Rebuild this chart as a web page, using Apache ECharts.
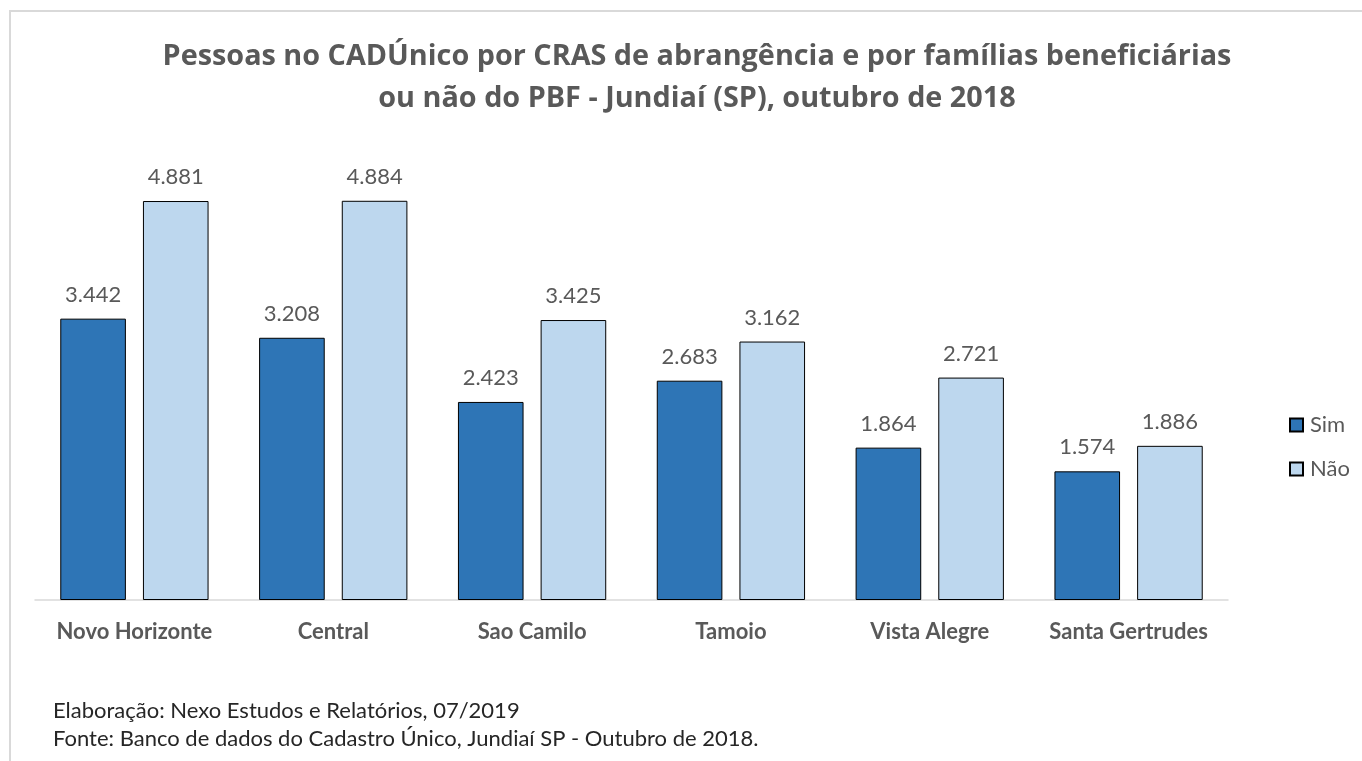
<!DOCTYPE html>
<html><head><meta charset="utf-8">
<script src="https://cdn.jsdelivr.net/npm/echarts@6/dist/echarts.min.js"></script>
<style>html,body{margin:0;padding:0;background:#fff}#c{width:1362px;height:761px}</style>
</head><body><div id="c"></div>
<script>
const categories = ['Novo Horizonte','Central','Sao Camilo','Tamoio','Vista Alegre','Santa Gertrudes'];
const seriesNames = ['Sim','Não'];
const simValues = [3442,3208,2423,2683,1864,1574];
const naoValues = [4881,4884,3425,3162,2721,1886];
const titleText = 'Pessoas no CADÚnico por CRAS de abrangência e por famílias beneficiárias\nou não do PBF - Jundiaí (SP), outubro de 2018';
const notes = ['Elaboração: Nexo Estudos e Relatórios, 07/2019','Fonte: Banco de dados do Cadastro Único, Jundiaí SP - Outubro de 2018.'];

const fmt = v => String(v).replace(/\B(?=(\d{3})+(?!\d))/g, '.');
const chart = echarts.init(document.getElementById('c'), null, {renderer:'canvas'});
const labelStyle = {show:true, position:'top', distance:13, color:'#595959', fontFamily:'Lato', fontSize:22, formatter:p=>fmt(p.value)};
chart.setOption({
  animation:false,
  title:{text:titleText, left:692, top:31, textAlign:'center',
    textStyle:{fontFamily:'Open Sans', fontWeight:'bold', fontSize:28.8, color:'#595959', lineHeight:42}},
  legend:{orient:'vertical', left:1284, top:409, itemWidth:13, itemHeight:13, itemGap:22,
    icon:'rect', textStyle:{fontFamily:'Lato', fontSize:22, color:'#595959', padding:[0,0,0,2]},
    data:seriesNames},
  grid:{left:35, right:134, top:191.3, bottom:161, outerBoundsMode:'none'},
  xAxis:{type:'category', data:categories,
    axisLine:{lineStyle:{color:'#d9d9d9', width:1.5}}, axisTick:{show:false},
    axisLabel:{interval:0, margin:21, fontFamily:'Lato', fontWeight:'bold', fontSize:22, color:'#595959'}},
  yAxis:{type:'value', min:0, max:5000, show:false, splitLine:{show:false}},
  series:[
    {name:seriesNames[0], type:'bar', data:simValues, barWidth:'33%', barGap:'26%',
      itemStyle:{color:'#2E75B6', borderColor:'#000', borderWidth:1}, label:labelStyle},
    {name:seriesNames[1], type:'bar', data:naoValues, barWidth:'33%', barGap:'26%',
      itemStyle:{color:'#BDD7EE', borderColor:'#000', borderWidth:1}, label:labelStyle}
  ],
  graphic:[
    {type:'rect', shape:{x:10, y:11, width:1400, height:800}, style:{fill:null, stroke:'#d9d9d9', lineWidth:2}, silent:true},
    {type:'text', left:53, top:700, style:{text:notes[0], fontFamily:'Lato', fontSize:22, fill:'#262626'}},
    {type:'text', left:53, top:728, style:{text:notes[1], fontFamily:'Lato', fontSize:22, fill:'#262626'}}
  ]
});
</script></body></html>
